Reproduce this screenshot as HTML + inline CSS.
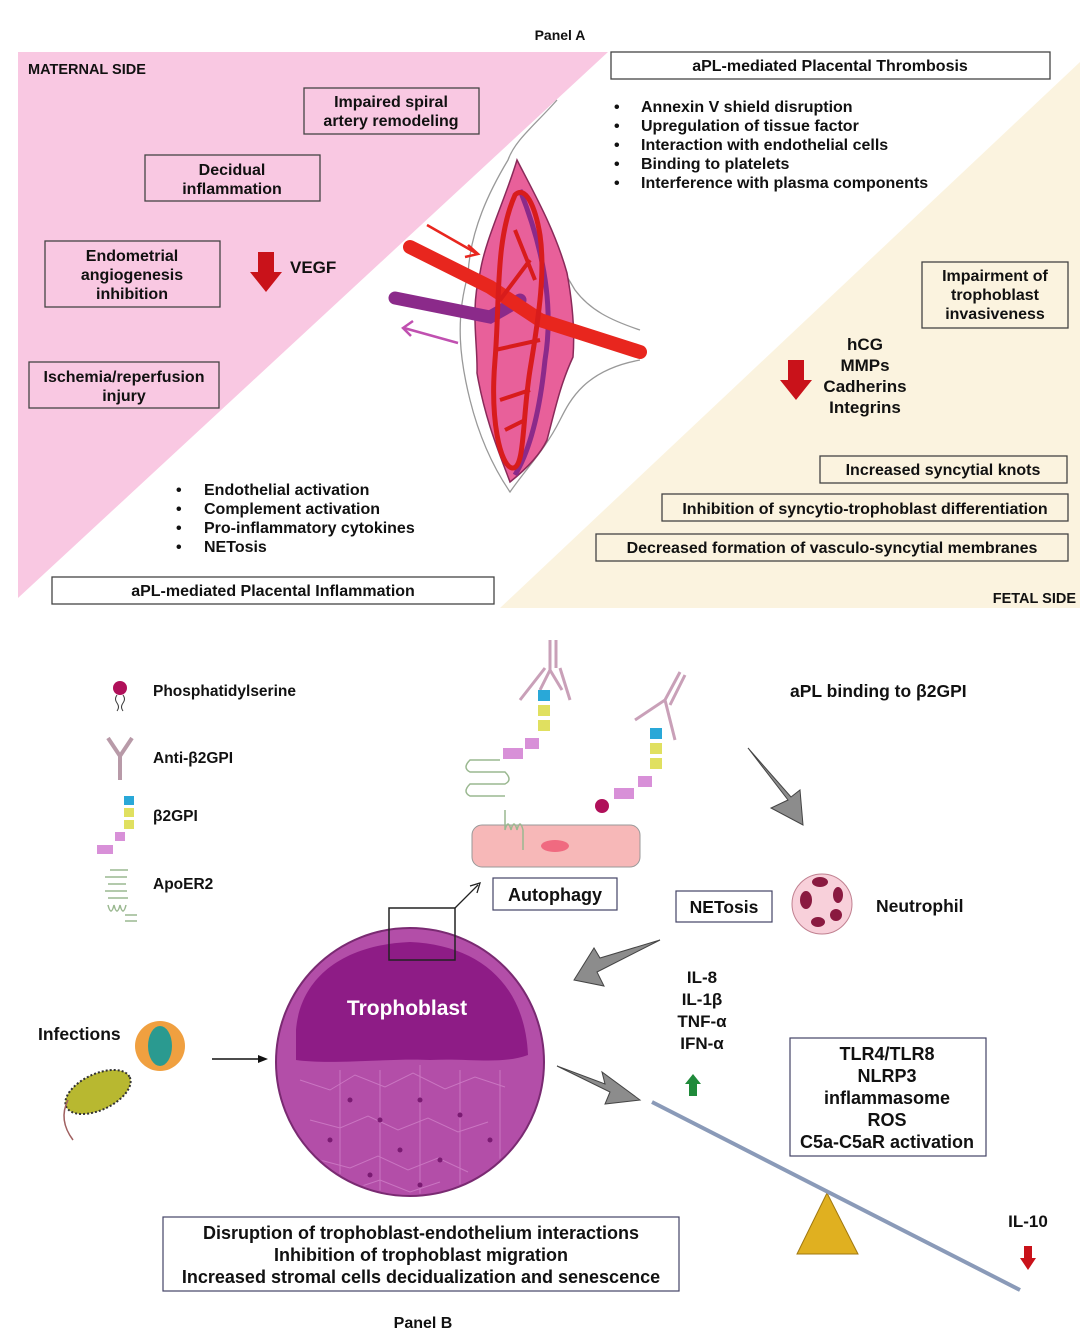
<!DOCTYPE html>
<html><head><meta charset="utf-8"><style>
html,body{margin:0;padding:0;background:#fff}
svg{display:block}
text{font-family:"Liberation Sans",sans-serif;font-weight:bold;fill:#111}
</style></head><body>
<svg width="1080" height="1339" viewBox="0 0 1080 1339" xmlns="http://www.w3.org/2000/svg">
<defs><clipPath id="cc"><circle cx="410" cy="1062" r="132"/></clipPath></defs>
<polygon points="18,52 608,52 18,598" fill="#f9c8e2"/>
<polygon points="1080,62 1080,608 500,608" fill="#fbf3df"/>
<text x="560" y="40" font-size="14" text-anchor="middle">Panel A</text>
<text x="28" y="74" font-size="14.5">MATERNAL SIDE</text>
<text x="1076" y="603" font-size="14.5" text-anchor="end">FETAL SIDE</text>

<path d="M557,100 C535,125 515,140 508,160 C490,190 470,230 468,275 C455,320 460,360 470,400 C480,440 495,470 510,492 C525,470 545,450 560,420 C570,400 585,370 640,360 M640,330 C610,320 590,310 575,290 C560,265 540,230 525,195" fill="none" stroke="#999" stroke-width="1.3"/>
<path d="M517,160 C505,200 485,240 480,273 C470,310 478,345 477,373 C485,420 500,455 510,482 C525,470 540,455 547,440 C555,410 560,385 573,357 C575,330 572,300 567,273 C555,230 535,195 517,160Z" fill="#e8609a" stroke="#8a2a5a" stroke-width="1.5"/>
<path d="M395,298 L490,317 L520,300" fill="none" stroke="#8b2a8a" stroke-width="13" stroke-linecap="round"/>
<path d="M520,190 C540,240 555,300 545,360 C540,410 530,450 515,475" fill="none" stroke="#8b2a8a" stroke-width="5"/>
<path d="M410,247 L490,287 L540,320 L640,352" fill="none" stroke="#e8261e" stroke-width="14" stroke-linecap="round"/>
<path d="M515,195 C495,240 500,300 495,360 C490,420 500,465 512,468 C525,470 522,420 530,370 C540,310 545,270 540,235 C535,205 525,185 515,195Z" fill="none" stroke="#d81c1c" stroke-width="5"/>
<path d="M500,300 L530,260 M495,350 L540,340 M500,400 L530,390 M515,230 L535,280 M505,430 L525,420" stroke="#d81c1c" stroke-width="4"/>
<path d="M427,225 L476,253" stroke="#e8261e" stroke-width="2.5"/>
<path d="M468,245 L478,254 L465,257" fill="none" stroke="#e8261e" stroke-width="2.5"/>
<path d="M458,343 L404,328" stroke="#c050b0" stroke-width="2.5"/>
<path d="M413,321 L403,328 L411,336" fill="none" stroke="#c050b0" stroke-width="2.5"/>

<g fill="none" stroke="#444" stroke-width="1.3">
<rect x="304" y="88" width="175" height="46"/>
<rect x="145" y="155" width="175" height="46"/>
<rect x="45" y="241" width="175" height="66"/>
<rect x="29" y="362" width="190" height="46"/>
<rect x="611" y="52" width="439" height="27"/>
<rect x="922" y="262" width="146" height="66"/>
<rect x="820" y="456" width="247" height="27"/>
<rect x="662" y="494" width="406" height="27"/>
<rect x="596" y="534" width="472" height="27"/>
<rect x="52" y="577" width="442" height="27"/>
</g>
<g font-size="16" text-anchor="middle">
<text x="391" y="107">Impaired spiral</text><text x="391" y="126">artery remodeling</text>
<text x="232" y="175">Decidual</text><text x="232" y="194">inflammation</text>
<text x="132" y="261">Endometrial</text><text x="132" y="280">angiogenesis</text><text x="132" y="299">inhibition</text>
<text x="124" y="382">Ischemia/reperfusion</text><text x="124" y="401">injury</text>
<text x="830" y="71">aPL-mediated Placental Thrombosis</text>
<text x="995" y="281">Impairment of</text><text x="995" y="300">trophoblast</text><text x="995" y="319">invasiveness</text>
<text x="943" y="475">Increased syncytial knots</text>
<text x="865" y="514">Inhibition of syncytio-trophoblast differentiation</text>
<text x="832" y="553">Decreased formation of vasculo-syncytial membranes</text>
<text x="273" y="596">aPL-mediated Placental Inflammation</text>
<text x="865" y="350" font-size="17">hCG</text><text x="865" y="371" font-size="17">MMPs</text><text x="865" y="392" font-size="17">Cadherins</text><text x="865" y="413" font-size="17">Integrins</text>
</g>
<text x="290" y="273" font-size="17">VEGF</text>
<g font-size="16">
<text x="614" y="112">•</text><text x="641" y="112">Annexin V shield disruption</text>
<text x="614" y="131">•</text><text x="641" y="131">Upregulation of tissue factor</text>
<text x="614" y="150">•</text><text x="641" y="150">Interaction with endothelial cells</text>
<text x="614" y="169">•</text><text x="641" y="169">Binding to platelets</text>
<text x="614" y="188">•</text><text x="641" y="188">Interference with plasma components</text>
<text x="176" y="495">•</text><text x="204" y="495">Endothelial activation</text>
<text x="176" y="514">•</text><text x="204" y="514">Complement activation</text>
<text x="176" y="533">•</text><text x="204" y="533">Pro-inflammatory cytokines</text>
<text x="176" y="552">•</text><text x="204" y="552">NETosis</text>
</g>
<polygon points="258,252 274,252 274,272 282,272 266,292 250,272 258,272" fill="#c9121a"/>
<polygon points="788,360 804,360 804,380 812,380 796,400 780,380 788,380" fill="#c9121a"/>

<circle cx="120" cy="688" r="7" fill="#b0105a"/>
<path d="M117,695 q-3,4 0,8 q3,4 0,8 M123,695 q3,4 0,8 q-3,4 0,8" fill="none" stroke="#333" stroke-width="1"/>
<text x="153" y="696" font-size="15.5">Phosphatidylserine</text>
<path d="M120,780 L120,756 L108,738 M120,756 L132,738" fill="none" stroke="#b89aa8" stroke-width="4"/>
<text x="153" y="763" font-size="15.5">Anti-β2GPI</text>
<rect x="124" y="796" width="10" height="9" fill="#29a8d8"/>
<rect x="124" y="808" width="10" height="9" fill="#e0e060"/>
<rect x="124" y="820" width="10" height="9" fill="#e0e060"/>
<rect x="115" y="832" width="10" height="9" fill="#d890d8"/>
<rect x="97" y="845" width="16" height="9" fill="#d890d8"/>
<text x="153" y="821" font-size="15.5">β2GPI</text>
<path d="M110,870 h18 M105,877 h22 M108,884 h18 M105,891 h22 M108,898 h20 M108,905 q3,12 6,0 q3,12 6,0 q3,12 6,0 M125,915 h12 M125,921 h12" fill="none" stroke="#9ab890" stroke-width="1.5"/>
<text x="153" y="889" font-size="15.5">ApoER2</text>

<rect x="472" y="825" width="168" height="42" rx="10" fill="#f7b8b8" stroke="#999"/>
<ellipse cx="555" cy="846" rx="14" ry="6" fill="#f06a80"/>
<path d="M550,640 L550,670 L540,690 M550,670 L562,690 M556,640 L556,668 M545,668 L520,700 M560,668 L570,700" fill="none" stroke="#c9a0b8" stroke-width="3"/>
<rect x="538" y="690" width="12" height="11" fill="#29a8d8"/><rect x="538" y="705" width="12" height="11" fill="#e0e060"/><rect x="538" y="720" width="12" height="11" fill="#e0e060"/>
<rect x="525" y="738" width="14" height="11" fill="#d890d8"/><rect x="503" y="748" width="20" height="11" fill="#d890d8"/>
<path d="M680,672 L665,700 L635,720 M665,700 L675,740 M685,675 L670,705" fill="none" stroke="#c9a0b8" stroke-width="3"/>
<rect x="650" y="728" width="12" height="11" fill="#29a8d8"/><rect x="650" y="743" width="12" height="11" fill="#e0e060"/><rect x="650" y="758" width="12" height="11" fill="#e0e060"/>
<rect x="638" y="776" width="14" height="11" fill="#d890d8"/><rect x="614" y="788" width="20" height="11" fill="#d890d8"/>
<circle cx="602" cy="806" r="7" fill="#b0105a"/>
<path d="M500,760 h-30 q-8,8 0,12 h35 q8,8 0,12 h-35 q-8,8 0,12 h35 M505,810 v20 q3,-12 6,0 q3,-12 6,0 q3,-12 6,0 v20" fill="none" stroke="#9ab890" stroke-width="1.5"/>

<circle cx="410" cy="1062" r="134" fill="#b34ea8" stroke="#7a2a72" stroke-width="2"/>
<path d="M296,1030 C300,980 340,945 410,942 C480,945 525,985 528,1055 C500,1065 470,1058 430,1060 C390,1058 330,1065 296,1060Z" fill="#8e1c86"/>
<g clip-path="url(#cc)" fill="none" stroke="#d080c8" stroke-width="1" opacity="0.8">
<path d="M300,1080 l30,10 l25,-15 l30,12 l28,-14 l32,16 l30,-12 l30,10 M310,1120 l30,8 l28,-12 l30,14 l30,-12 l30,14 l30,-10 M320,1160 l30,8 l28,-12 l30,14 l30,-12 l30,14 M350,1190 l30,-10 l30,12 l30,-10"/>
<path d="M340,1070 v130 M380,1070 v130 M420,1065 v130 M460,1070 v120 M500,1070 v100"/>
</g>
<g fill="#7a1a72">
<circle cx="350" cy="1100" r="2.5"/><circle cx="380" cy="1120" r="2.5"/><circle cx="420" cy="1100" r="2.5"/><circle cx="460" cy="1115" r="2.5"/><circle cx="400" cy="1150" r="2.5"/><circle cx="440" cy="1160" r="2.5"/><circle cx="330" cy="1140" r="2.5"/><circle cx="490" cy="1140" r="2.5"/><circle cx="370" cy="1175" r="2.5"/><circle cx="420" cy="1185" r="2.5"/></g>
<text x="407" y="1015" font-size="21" text-anchor="middle" style="fill:#fff">Trophoblast</text>
<rect x="389" y="908" width="66" height="52" fill="none" stroke="#222" stroke-width="1.5"/>
<path d="M455,908 L478,885" stroke="#222" stroke-width="1.3"/>
<path d="M470,886 L480,883 L477,893" fill="none" stroke="#222" stroke-width="1.3"/>

<text x="38" y="1040" font-size="17.5">Infections</text>
<circle cx="160" cy="1046" r="25" fill="#f0a040"/>
<ellipse cx="160" cy="1046" rx="12" ry="20" fill="#2a9a90"/>
<ellipse cx="98" cy="1092" rx="35" ry="18" transform="rotate(-25 98 1092)" fill="#b8b830" stroke="#333" stroke-dasharray="2 2" stroke-width="2"/>
<path d="M68,1100 q-10,20 5,40" fill="none" stroke="#a06060" stroke-width="1.5"/>
<path d="M212,1059 L262,1059" stroke="#111" stroke-width="1.5"/>
<polygon points="268,1059 258,1055 258,1063" fill="#111"/>

<rect x="493" y="878" width="124" height="32" fill="none" stroke="#446" stroke-width="1.2"/>
<text x="555" y="901" font-size="18" text-anchor="middle">Autophagy</text>
<rect x="676" y="891" width="96" height="31" fill="none" stroke="#446" stroke-width="1.2"/>
<text x="724" y="913" font-size="17.5" text-anchor="middle">NETosis</text>
<circle cx="822" cy="904" r="30" fill="#f8d0da" stroke="#c08090"/>
<g fill="#8a1a40"><ellipse cx="806" cy="900" rx="6" ry="9"/><ellipse cx="820" cy="882" rx="8" ry="5"/><ellipse cx="838" cy="895" rx="5" ry="8"/><ellipse cx="836" cy="915" rx="6" ry="6"/><ellipse cx="818" cy="922" rx="7" ry="5"/></g>
<text x="876" y="912" font-size="17.5">Neutrophil</text>
<text x="790" y="697" font-size="17.5">aPL binding to β2GPI</text>
<g font-size="17" text-anchor="middle"><text x="702" y="983">IL-8</text><text x="702" y="1005">IL-1β</text><text x="702" y="1027">TNF-α</text><text x="702" y="1049">IFN-α</text></g>
<polygon points="693,1074 701,1084 697,1084 697,1096 689,1096 689,1084 685,1084" fill="#1f8a3a"/>

<g fill="#8c8c8c" stroke="#444" stroke-width="1">
<polygon points="748,748 788,800 771,808 803,825 800,790 791,797"/>
<polygon points="660,940 600,958 594,948 574,980 604,986 597,972"/>
<polygon points="557,1066 605,1084 602,1072 640,1100 605,1104 610,1092"/>
</g>

<polygon points="827,1193 797,1254 858,1254" fill="#e0b020" stroke="#a07810"/>
<path d="M652,1102 L1020,1290" stroke="#8a9ab8" stroke-width="4"/>
<rect x="790" y="1038" width="196" height="118" fill="none" stroke="#446" stroke-width="1.2"/>
<g font-size="18" text-anchor="middle"><text x="887" y="1060">TLR4/TLR8</text><text x="887" y="1082">NLRP3</text><text x="887" y="1104">inflammasome</text><text x="887" y="1126">ROS</text><text x="887" y="1148">C5a-C5aR activation</text></g>
<text x="1028" y="1227" font-size="17" text-anchor="middle">IL-10</text>
<polygon points="1024,1246 1032,1246 1032,1258 1036,1258 1028,1270 1020,1258 1024,1258" fill="#c9121a"/>

<rect x="163" y="1217" width="516" height="74" fill="none" stroke="#446" stroke-width="1.2"/>
<g font-size="18" text-anchor="middle"><text x="421" y="1239">Disruption of trophoblast-endothelium interactions</text><text x="421" y="1261">Inhibition of trophoblast migration</text><text x="421" y="1283">Increased stromal cells decidualization and senescence</text></g>
<text x="423" y="1328" font-size="16" text-anchor="middle">Panel B</text>
</svg>
</body></html>
